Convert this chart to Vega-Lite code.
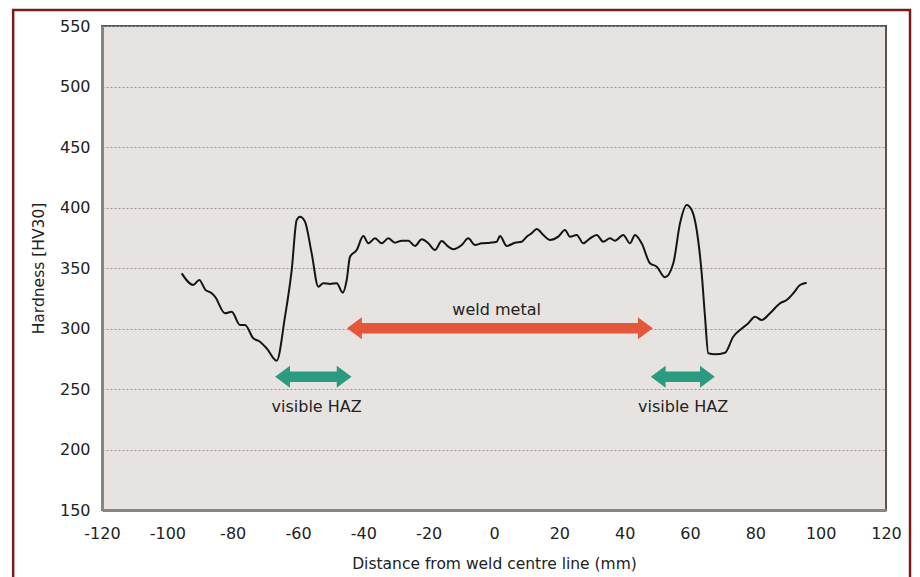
{
  "$schema": "https://vega.github.io/schema/vega-lite/v6.json",
  "width": 784,
  "height": 484,
  "autosize": "none",
  "padding": {"left": 102, "top": 26, "right": 34, "bottom": 67},
  "background": "white",
  "config": {
    "font": "DejaVu Sans",
    "view": {"fill": "#e7e3e1", "stroke": "#555555", "strokeWidth": 2},
    "axis": {
      "labelFont": "DejaVu Sans",
      "titleFont": "DejaVu Sans",
      "labelFontSize": 16,
      "titleFontSize": 15.5,
      "titleFontWeight": "normal",
      "labelColor": "#222222",
      "titleColor": "#222222",
      "ticks": false,
      "labelFlush": false,
      "labelOverlap": false,
      "domainColor": "#8a8585",
      "domainWidth": 3
    }
  },
  "datasets": {
    "profile": [
      {"x": -95.6, "hv": 345.6}, {"x": -92.05, "hv": 336.0}, {"x": -90.21, "hv": 340.1},
      {"x": -88.47, "hv": 332.4}, {"x": -86.42, "hv": 329.1}, {"x": -85.41, "hv": 326.3},
      {"x": -82.35, "hv": 312.6}, {"x": -80.3, "hv": 313.9}, {"x": -77.75, "hv": 302.9},
      {"x": -76.22, "hv": 302.9}, {"x": -73.68, "hv": 291.9}, {"x": -71.63, "hv": 289.1},
      {"x": -69.58, "hv": 283.6}, {"x": -66.52, "hv": 273.4}, {"x": -63.98, "hv": 309.8},
      {"x": -61.93, "hv": 348.3}, {"x": -60.4, "hv": 389.7}, {"x": -59.39, "hv": 392.4},
      {"x": -57.86, "hv": 388.3}, {"x": -55.81, "hv": 362.1}, {"x": -53.79, "hv": 334.5},
      {"x": -52.25, "hv": 337.4}, {"x": -50.2, "hv": 336.8}, {"x": -48.15, "hv": 337.4},
      {"x": -46.32, "hv": 329.6}, {"x": -45.09, "hv": 340.1}, {"x": -44.08, "hv": 359.3},
      {"x": -42.03, "hv": 364.9}, {"x": -40.01, "hv": 376.4}, {"x": -38.48, "hv": 370.4},
      {"x": -36.43, "hv": 374.5}, {"x": -34.38, "hv": 370.4}, {"x": -32.36, "hv": 374.5},
      {"x": -30.31, "hv": 370.9}, {"x": -28.25, "hv": 372.6}, {"x": -26.23, "hv": 372.6},
      {"x": -24.18, "hv": 368.2}, {"x": -22.13, "hv": 373.7}, {"x": -20.11, "hv": 370.4},
      {"x": -18.06, "hv": 364.9}, {"x": -16.01, "hv": 372.3}, {"x": -13.99, "hv": 367.6},
      {"x": -12.46, "hv": 365.5}, {"x": -9.89, "hv": 369.0}, {"x": -7.87, "hv": 374.5},
      {"x": -5.82, "hv": 369.0}, {"x": -3.77, "hv": 370.4}, {"x": -1.22, "hv": 370.9},
      {"x": 0.83, "hv": 371.7}, {"x": 1.84, "hv": 376.4}, {"x": 3.89, "hv": 368.2},
      {"x": 6.43, "hv": 370.9}, {"x": 8.48, "hv": 371.7}, {"x": 10.01, "hv": 375.9},
      {"x": 11.54, "hv": 378.7}, {"x": 13.07, "hv": 382.2}, {"x": 15.09, "hv": 377.3},
      {"x": 17.14, "hv": 373.1}, {"x": 19.68, "hv": 375.9}, {"x": 21.73, "hv": 381.4},
      {"x": 23.27, "hv": 375.9}, {"x": 25.32, "hv": 377.3}, {"x": 27.34, "hv": 370.4},
      {"x": 29.39, "hv": 374.5}, {"x": 31.44, "hv": 377.3}, {"x": 33.46, "hv": 371.7},
      {"x": 35.51, "hv": 374.5}, {"x": 37.04, "hv": 372.6}, {"x": 39.58, "hv": 377.3},
      {"x": 41.63, "hv": 370.4}, {"x": 43.16, "hv": 377.3}, {"x": 45.21, "hv": 370.4},
      {"x": 47.75, "hv": 353.9}, {"x": 49.81, "hv": 351.1}, {"x": 52.35, "hv": 342.3},
      {"x": 54.89, "hv": 353.9}, {"x": 56.94, "hv": 386.9}, {"x": 58.99, "hv": 402.1},
      {"x": 60.52, "hv": 397.9}, {"x": 62.05, "hv": 381.4}, {"x": 63.58, "hv": 345.6},
      {"x": 64.59, "hv": 309.8}, {"x": 65.6, "hv": 279.5}, {"x": 67.65, "hv": 278.7},
      {"x": 70.71, "hv": 280.0}, {"x": 73.25, "hv": 293.2}, {"x": 75.31, "hv": 298.8},
      {"x": 77.85, "hv": 304.3}, {"x": 79.9, "hv": 309.8}, {"x": 81.95, "hv": 307.0},
      {"x": 84.49, "hv": 312.6}, {"x": 87.55, "hv": 320.8}, {"x": 89.6, "hv": 323.6},
      {"x": 91.62, "hv": 329.1}, {"x": 93.67, "hv": 335.9}, {"x": 95.72, "hv": 337.9}
    ],
    "arrows": [
      {"zone": "weld metal", "tip1": -45.0, "tip2": 48.6, "shaft1": -41.0, "shaft2": 44.6, "y": 300.2},
      {"zone": "visible HAZ", "tip1": -67.0, "tip2": -43.6, "shaft1": -63.5, "shaft2": -47.1, "y": 260.2},
      {"zone": "visible HAZ", "tip1": 48.0, "tip2": 67.6, "shaft1": 51.5, "shaft2": 64.1, "y": 260.2}
    ],
    "labels": [
      {"text": "weld metal", "x": 0.8, "y": 311.2},
      {"text": "visible HAZ", "x": -54.3, "y": 231.0},
      {"text": "visible HAZ", "x": 57.9, "y": 231.0}
    ],
    "frame": [{"left": -147.2, "right": 127.35, "top": 563.2, "bottom": 75.6}]
  },
  "layer": [
    {
      "data": {"name": "profile"},
      "mark": {"type": "line", "color": "#151515", "strokeWidth": 2, "interpolate": "monotone"},
      "encoding": {
        "x": {
          "field": "x", "type": "quantitative",
          "scale": {"domain": [-120, 120], "nice": false, "zero": false},
          "axis": {
            "title": "Distance from weld centre line (mm)",
            "values": [-120, -100, -80, -60, -40, -20, 0, 20, 40, 60, 80, 100, 120],
            "labelExpr": "replace(datum.label, '\u2212', '-')",
            "grid": false,
            "labelPadding": 15,
            "titlePadding": 15
          }
        },
        "y": {
          "field": "hv", "type": "quantitative",
          "scale": {"domain": [150, 550], "nice": false, "zero": false},
          "axis": {
            "title": "Hardness [HV30]",
            "values": [150, 200, 250, 300, 350, 400, 450, 500, 550],
            "grid": true,
            "gridColor": "#9a9494",
            "gridDash": [2, 2],
            "gridWidth": 1,
            "labelPadding": 12,
            "titlePadding": 13
          }
        }
      }
    },
    {
      "data": {"name": "frame"},
      "mark": {"type": "rect", "fill": null, "fillOpacity": 0, "stroke": "#7b1c1c", "strokeWidth": 2.5, "clip": false},
      "encoding": {
        "x": {"field": "left", "type": "quantitative"},
        "x2": {"field": "right"},
        "y": {"field": "top", "type": "quantitative"},
        "y2": {"field": "bottom"}
      }
    },
    {
      "data": {"name": "arrows"},
      "mark": {"type": "rule", "strokeWidth": 10.5, "strokeCap": "butt"},
      "encoding": {
        "x": {"field": "shaft1", "type": "quantitative"},
        "x2": {"field": "shaft2"},
        "y": {"field": "y", "type": "quantitative"},
        "color": {"field": "zone", "type": "nominal", "scale": {"domain": ["weld metal", "visible HAZ"], "range": ["#e4573a", "#2b9b80"]}, "legend": null}
      }
    },
    {
      "data": {"name": "arrows"},
      "mark": {"type": "point", "shape": "M0,0L1.35,-1L1.35,1Z", "filled": true, "opacity": 1, "size": 484, "strokeWidth": 0},
      "encoding": {
        "x": {"field": "tip1", "type": "quantitative"},
        "y": {"field": "y", "type": "quantitative"},
        "color": {"field": "zone", "type": "nominal", "scale": {"domain": ["weld metal", "visible HAZ"], "range": ["#e4573a", "#2b9b80"]}, "legend": null}
      }
    },
    {
      "data": {"name": "arrows"},
      "mark": {"type": "point", "shape": "M0,0L-1.35,-1L-1.35,1Z", "filled": true, "opacity": 1, "size": 484, "strokeWidth": 0},
      "encoding": {
        "x": {"field": "tip2", "type": "quantitative"},
        "y": {"field": "y", "type": "quantitative"},
        "color": {"field": "zone", "type": "nominal", "scale": {"domain": ["weld metal", "visible HAZ"], "range": ["#e4573a", "#2b9b80"]}, "legend": null}
      }
    },
    {
      "data": {"name": "labels"},
      "mark": {"type": "text", "font": "DejaVu Sans", "fontSize": 16, "color": "#222222", "align": "center", "baseline": "alphabetic"},
      "encoding": {
        "x": {"field": "x", "type": "quantitative"},
        "y": {"field": "y", "type": "quantitative"},
        "text": {"field": "text"}
      }
    }
  ]
}
